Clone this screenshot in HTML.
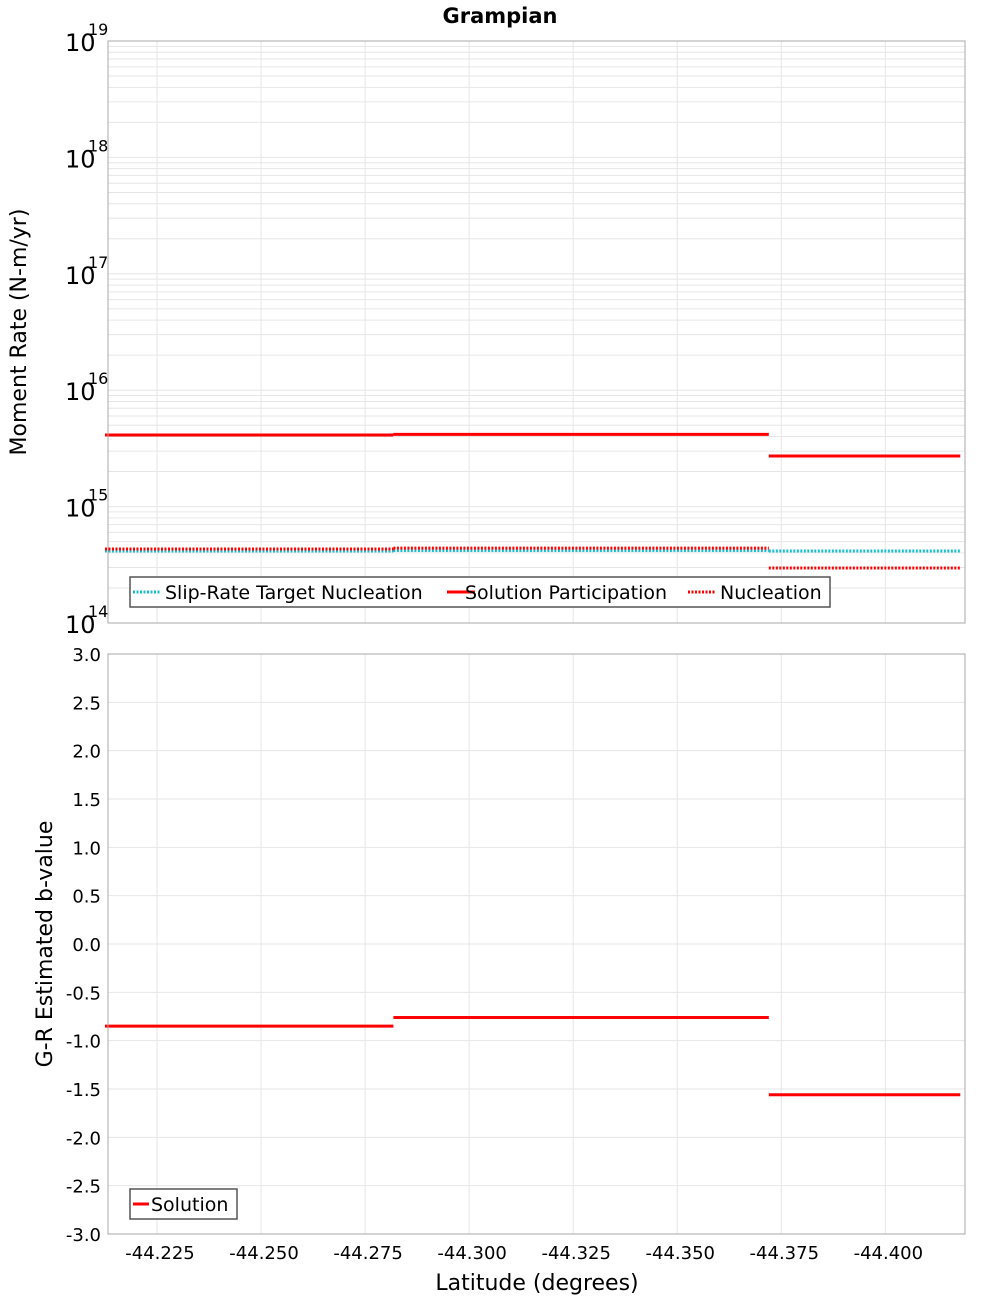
<!DOCTYPE html>
<html><head><meta charset="utf-8"><style>
body{margin:0;background:#fff;font-family:"DejaVu Sans","Liberation Sans",sans-serif;}
svg text{font-family:"DejaVu Sans","Liberation Sans",sans-serif;}
</style></head><body>
<svg id="chart" width="1000" height="1300" xmlns="http://www.w3.org/2000/svg">
<text x="500" y="23" text-anchor="middle" font-size="21" font-weight="bold">Grampian</text>
<g id="topPanel"></g><g id="botPanel"></g>
</svg>
<script>
const xTickLabels=["-44.225","-44.250","-44.275","-44.300","-44.325","-44.350","-44.375","-44.400"];
const xTicks=[-44.225,-44.25,-44.275,-44.3,-44.325,-44.35,-44.375,-44.4];
const segStarts=[-44.2125,-44.2818,-44.372];
const segEnds=[-44.2818,-44.372,-44.418];
const participation=[4.12e15,4.17e15,2.72e15];
const nucleation=[4.32e14,4.4e14,2.97e14];
const targetNucleation=[4.16e14,4.2e14,4.16e14];
const bValues=[-0.85,-0.76,-1.56];
const yBotTicks=[3,2.5,2,1.5,1,0.5,0,-0.5,-1,-1.5,-2,-2.5,-3];
const yBotLabels=["3.0","2.5","2.0","1.5","1.0","0.5","0.0","-0.5","-1.0","-1.5","-2.0","-2.5","-3.0"];
const logExps=[14,15,16,17,18,19];

const NS="http://www.w3.org/2000/svg";
const L=108,R=965,T1=41,B1=623,T2=654,B2=1234;
const xs=v=>157+(-44.225-v)*4162;
const ysTop=v=>B1-(Math.log10(v)-14)*(B1-T1)/5;
const ysBot=v=>T2+(3-v)*(B2-T2)/6;
function mk(parent,tag,attrs,name,text){const e=document.createElementNS(NS,tag);for(const k in attrs)e.setAttribute(k,attrs[k]);


if(text!==undefined)e.textContent=text;parent.appendChild(e);return e;}
const gTop=document.getElementById('topPanel'),gBot=document.getElementById('botPanel');
[[gTop,T1,B1],[gBot,T2,B2]].forEach(([g,t,b])=>{
 mk(g,'rect',{x:L,y:t,width:R-L,height:b-t,fill:'#fff'},'plot-area');
 xTicks.forEach(v=>mk(g,'line',{x1:xs(v),x2:xs(v),y1:t,y2:b,stroke:'#e6e6e6'},'x-grid-line'));
});
for(let e=14;e<19;e++)for(let m=1;m<10;m++){const y=ysTop(m*Math.pow(10,e));
 mk(gTop,'line',{x1:L,x2:R,y1:y,y2:y,stroke:'#e6e6e6'},'y-grid-line');}
yBotTicks.forEach(v=>mk(gBot,'line',{x1:L,x2:R,y1:ysBot(v),y2:ysBot(v),stroke:'#e6e6e6'},'y-grid-line'));
logExps.forEach(e=>{const y=ysTop(Math.pow(10,e));
 mk(gTop,'text',{x:65,y:y+10,'font-size':24},'y-tick-label','10');
 mk(gTop,'text',{x:88,y:y-6,'font-size':16},'y-tick-exponent',String(e));});
yBotTicks.forEach((v,i)=>mk(gBot,'text',{x:101,y:ysBot(v)+7,'font-size':18,'text-anchor':'end'},'y-tick-label',yBotLabels[i]));
xTicks.forEach((v,i)=>mk(gBot,'text',{x:xs(v)+3,y:1259,'font-size':18,'text-anchor':'middle'},'x-tick-label',xTickLabels[i]));
function series(g,arr,ys,color,dash,name){arr.forEach((v,i)=>{const a={x1:xs(segStarts[i]),x2:xs(segEnds[i]),y1:ys(v),y2:ys(v),stroke:color,'stroke-width':3};
 if(dash)a['stroke-dasharray']=dash;mk(g,'line',a,name);});}
series(gTop,targetNucleation,ysTop,'#17bfcf','2,1.5','target-nucleation-line');
series(gTop,nucleation,ysTop,'#ff0000','2,1.5','nucleation-line');
series(gTop,participation,ysTop,'#ff0000',null,'participation-line');
series(gBot,bValues,ysBot,'#ff0000',null,'b-value-line');
[[gTop,T1,B1],[gBot,T2,B2]].forEach(([g,t,b])=>mk(g,'rect',{x:L,y:t,width:R-L,height:b-t,fill:'none',stroke:'#aaa'},'plot-border'));
const lg=mk(gTop,'g',{},'legend');
mk(lg,'rect',{x:130,y:577,width:700,height:30,fill:'#fff',stroke:'#555','stroke-width':1.5},'legend-box');
const items=[[133,'#17bfcf','2,1.5','Slip-Rate Target Nucleation',165],[447,'#ff0000',null,'Solution Participation',465],[688,'#ff0000','2,1.5','Nucleation',720]];
items.forEach(([x,c,d,t,tx])=>{const a={x1:x,x2:x+28,y1:592,y2:592,stroke:c,'stroke-width':3};if(d)a['stroke-dasharray']=d;
 mk(lg,'line',a,'legend-swatch');mk(lg,'text',{x:tx,y:599,'font-size':19},'legend-entry',t);});
const lg2=mk(gBot,'g',{},'legend-bottom');
mk(lg2,'rect',{x:130,y:1189,width:107,height:30,fill:'#fff',stroke:'#555','stroke-width':1.5},'legend-box');
mk(lg2,'line',{x1:133,x2:149,y1:1204,y2:1204,stroke:'#ff0000','stroke-width':3},'legend-swatch');
mk(lg2,'text',{x:151,y:1211,'font-size':19},'legend-entry','Solution');
mk(gTop,'text',{x:0,y:0,'font-size':22,'text-anchor':'middle',transform:'translate(26,332) rotate(-90)'},'y-axis-title','Moment Rate (N-m/yr)');
mk(gBot,'text',{x:0,y:0,'font-size':22,'text-anchor':'middle',transform:'translate(52,944) rotate(-90)'},'y-axis-title-bottom','G-R Estimated b-value');
mk(gBot,'text',{x:537,y:1290,'font-size':22,'text-anchor':'middle'},'x-axis-title','Latitude (degrees)');
</script>
</body></html>
